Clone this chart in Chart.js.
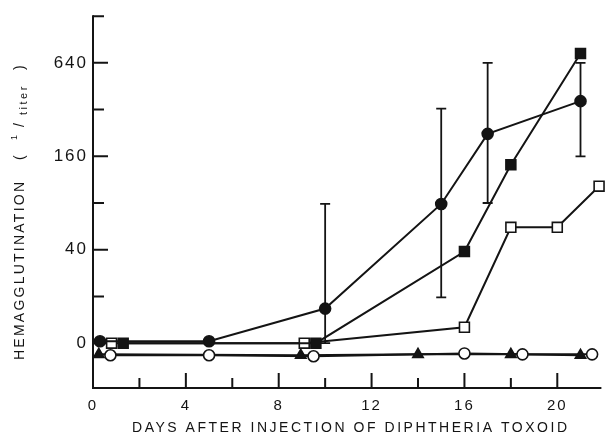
<!DOCTYPE html>
<html><head><meta charset="utf-8">
<script src="https://cdn.jsdelivr.net/npm/chart.js@4.4.1/dist/chart.umd.min.js"></script>
<style>html,body{margin:0;padding:0;background:#fff}#wrap{width:610px;height:443px;position:relative}canvas{display:block}</style>
</head><body><div id="wrap"><canvas id="c" width="610" height="443" style="width:610px;height:443px"></canvas></div>
<script>
// y positions are equal log steps: 0 -> "0", 1 -> 40, 2 -> 160, 3 -> 640
const xTickValues = [0, 4, 8, 12, 16, 20];
const xMinorTicks = [2, 6, 10, 14, 18];
const yTickValues = [0, 1, 2, 3];
const yTickLabels = ['0', '40', '160', '640'];
const yMinorTicks = [0.5, 1.5, 2.5, 3.5];

const filledCircleDays = [0.3, 5, 10, 15, 17, 21];
const filledCircleTiter = [0.02, 0.02, 0.37, 1.49, 2.24, 2.59];
const errDays = [10, 15, 17, 21];
const errLow = [0, 0.49, 1.5, 2.0];
const errHigh = [1.49, 2.51, 3.0, 3.0];
const filledSquareDays = [1.3, 9.6, 16, 18, 21];
const filledSquareTiter = [0, 0, 0.98, 1.91, 3.1];
const openSquareDays = [0.8, 9.1, 16, 18, 20, 21.8];
const openSquareTiter = [0, 0, 0.17, 1.24, 1.24, 1.68];
const openCircleDays = [0.75, 5, 9.5, 16, 18.5, 21.5];
const openCircleTiter = [-0.13, -0.13, -0.14, -0.11, -0.12, -0.12];
const triangleDays = [0.25, 8.95, 14, 18, 21];
const triangleTiter = [-0.12, -0.13, -0.12, -0.12, -0.13];

const xTitle = 'DAYS AFTER INJECTION OF DIPHTHERIA TOXOID';
const yTitleMain = 'HEMAGGLUTINATION';

const INK = '#141414';
const FONT = '"Liberation Sans", Arial, sans-serif';
const pts = (xs, ys) => xs.map((x, i) => ({x, y: ys[i]}));
function series(label, xs, ys, style, radius, filled) {
  return {
    label, data: pts(xs, ys), showLine: true, tension: 0,
    borderColor: INK, borderWidth: 2,
    pointStyle: style, pointRadius: radius, pointHoverRadius: radius,
    pointBackgroundColor: filled ? INK : '#fff',
    pointBorderColor: INK, pointBorderWidth: 1.6, clip: false
  };
}

const deco = {
  id: 'deco',
  beforeDraw(chart) { chart.ctx.letterSpacing = '2px'; },
  beforeDatasetsDraw(chart) {
    const ctx = chart.ctx, xs = chart.scales.x, ys = chart.scales.y, a = chart.chartArea;
    ctx.save();
    ctx.letterSpacing = '0px';
    ctx.strokeStyle = INK; ctx.lineWidth = 2; ctx.lineCap = 'butt';
    ctx.beginPath();
    ctx.moveTo(a.left, a.top); ctx.lineTo(a.left, a.bottom); ctx.lineTo(a.right, a.bottom);
    ctx.stroke();
    ctx.beginPath();
    xTickValues.forEach(v => { const p = xs.getPixelForValue(v); ctx.moveTo(p, a.bottom); ctx.lineTo(p, a.bottom - 15); });
    xMinorTicks.forEach(v => { const p = xs.getPixelForValue(v); ctx.moveTo(p, a.bottom); ctx.lineTo(p, a.bottom - 10); });
    yTickValues.forEach(v => { const p = ys.getPixelForValue(v); ctx.moveTo(a.left, p); ctx.lineTo(a.left + 15, p); });
    yMinorTicks.forEach(v => { const p = ys.getPixelForValue(v); ctx.moveTo(a.left, p); ctx.lineTo(a.left + 11, p); });
    ctx.stroke();
    ctx.lineWidth = 1.8;
    ctx.beginPath();
    errDays.forEach((d, i) => {
      const px = xs.getPixelForValue(d), lo = ys.getPixelForValue(errLow[i]), hi = ys.getPixelForValue(errHigh[i]);
      ctx.moveTo(px, lo); ctx.lineTo(px, hi);
      ctx.moveTo(px - 5, hi); ctx.lineTo(px + 5, hi);
      ctx.moveTo(px - 5, lo); ctx.lineTo(px + 5, lo);
    });
    ctx.stroke();
    ctx.restore();
  },
  afterDraw(chart) {
    const ctx = chart.ctx;
    ctx.save();
    ctx.fillStyle = INK;
    ctx.textBaseline = 'middle';
    ctx.font = '14px ' + FONT;
    ctx.letterSpacing = '0px';
    const w0 = ctx.measureText(xTitle).width;
    const sp = (435 - w0) / (xTitle.length - 1);
    ctx.letterSpacing = sp + 'px';
    ctx.textAlign = 'left';
    ctx.fillText(xTitle, 132, 428);
    // rotated y title
    ctx.translate(20, 360);
    ctx.rotate(-Math.PI / 2);
    const seg = (t, size, x, dy, ls) => {
      ctx.font = size + 'px ' + FONT; ctx.letterSpacing = ls + 'px';
      ctx.fillText(t, x, dy);
    };
    ctx.font = '14px ' + FONT; ctx.letterSpacing = '0px';
    const mw = ctx.measureText(yTitleMain).width;
    seg(yTitleMain, 14, 0, 0, (178 - mw) / (yTitleMain.length - 1));
    seg('(', 14, 200, 0, 0);
    seg('1', 9, 220, -5, 0);
    seg('/', 14, 233, 0, 0);
    seg('titer', 11, 245, 4, 2.5);
    seg(')', 14, 290, 0, 0);
    ctx.restore();
  }
};

new Chart(document.getElementById('c'), {
  type: 'scatter',
  data: {
    datasets: [
      series('filled circle', filledCircleDays, filledCircleTiter, 'circle', 5.5, true),
      series('filled square', filledSquareDays, filledSquareTiter, 'rect', 7, true),
      series('open square', openSquareDays, openSquareTiter, 'rect', 7, false),
      series('open circle', openCircleDays, openCircleTiter, 'circle', 5.5, false),
      series('triangle', triangleDays, triangleTiter, 'triangle', 6, true)
    ]
  },
  options: {
    responsive: false, animation: false, devicePixelRatio: 1,
    layout: {padding: {top: 14, right: 0, left: 0, bottom: 0}},
    plugins: {legend: {display: false}, tooltip: {enabled: false}},
    scales: {
      x: {
        type: 'linear', min: 0, max: 21.9,
        grid: {display: false, drawTicks: false}, border: {display: false},
        afterFit: s => { s.height = 55; },
        afterBuildTicks: s => { s.ticks = xTickValues.map(v => ({value: v})); },
        ticks: {color: INK, padding: 9, font: {family: FONT, size: 15},
          maxRotation: 0, autoSkip: false, callback: v => String(v)}
      },
      y: {
        type: 'linear', min: -0.48, max: 3.51,
        grid: {display: false, drawTicks: false}, border: {display: false},
        afterFit: s => { s.width = 93; },
        afterBuildTicks: s => { s.ticks = yTickValues.map(v => ({value: v})); },
        ticks: {color: INK, padding: 5, font: {family: FONT, size: 17},
          autoSkip: false, callback: v => { const i = yTickValues.indexOf(v); return i >= 0 ? yTickLabels[i] : ''; }}
      }
    }
  },
  plugins: [deco]
});
</script></body></html>
